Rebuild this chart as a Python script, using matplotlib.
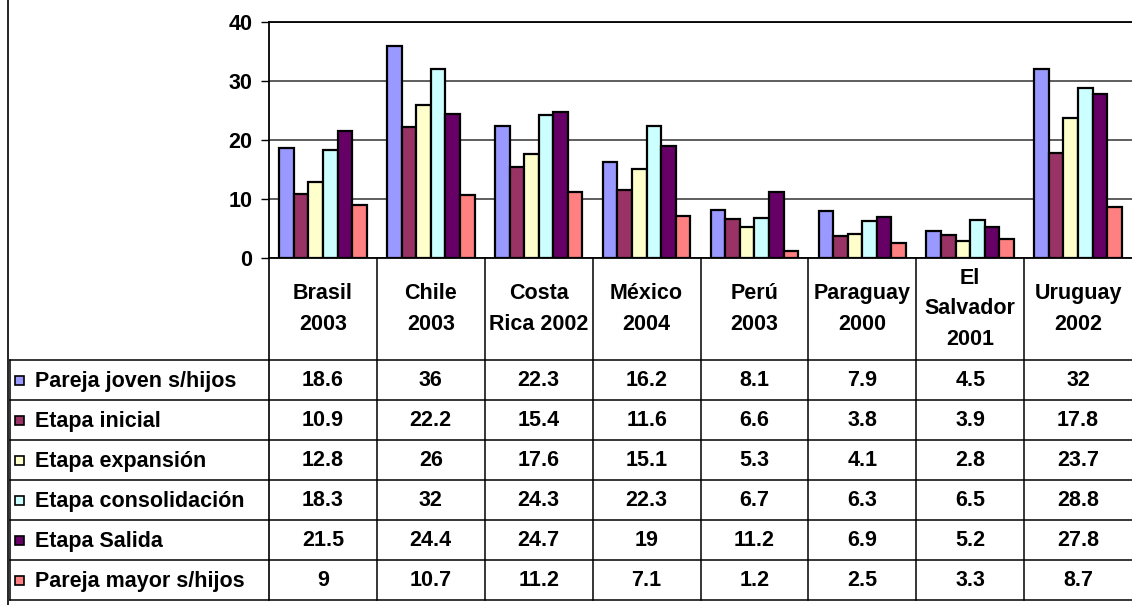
import matplotlib
matplotlib.use("Agg")
import matplotlib.pyplot as plt
from matplotlib.patches import Rectangle
import numpy as np

plt.rcParams['font.family'] = ['Liberation Sans', 'DejaVu Sans']

categories = ["Brasil\n2003", "Chile\n2003", "Costa\nRica 2002", "México\n2004",
              "Perú\n2003", "Paraguay\n2000", "El\nSalvador\n2001", "Uruguay\n2002"]
series_names = ["Pareja joven s/hijos", "Etapa inicial", "Etapa expansión",
                "Etapa consolidación", "Etapa Salida", "Pareja mayor s/hijos"]
pareja_joven = [18.6, 36, 22.3, 16.2, 8.1, 7.9, 4.5, 32]
etapa_inicial = [10.9, 22.2, 15.4, 11.6, 6.6, 3.8, 3.9, 17.8]
etapa_expansion = [12.8, 26, 17.6, 15.1, 5.3, 4.1, 2.8, 23.7]
etapa_consolidacion = [18.3, 32, 24.3, 22.3, 6.7, 6.3, 6.5, 28.8]
etapa_salida = [21.5, 24.4, 24.7, 19, 11.2, 6.9, 5.2, 27.8]
pareja_mayor = [9, 10.7, 11.2, 7.1, 1.2, 2.5, 3.3, 8.7]
series = [pareja_joven, etapa_inicial, etapa_expansion, etapa_consolidacion,
          etapa_salida, pareja_mayor]
colors = ["#9999FF", "#993366", "#FFFFCC", "#CCFFFF", "#660066", "#FF8080"]
yticks = [0, 10, 20, 30, 40]

FS = 15.5
W, H = 1132, 605
fig = plt.figure(figsize=(W / 100, H / 100), dpi=100)

# plot area in pixels
px_left, px_right, px_top, px_bottom = 269, 1132, 22, 258
ax = fig.add_axes([px_left / W, 1 - px_bottom / H,
                   (px_right - px_left) / W, (px_bottom - px_top) / H])

n = len(categories)
bw = 0.135
start = 0.095
x = np.arange(n)
for k, (vals, c) in enumerate(zip(series, colors)):
    ax.bar(x + start + k * bw, vals, width=bw, align='edge', color=c,
           edgecolor='black', linewidth=1.6, zorder=3)

ax.set_xlim(0, n)
ax.set_ylim(0, 40)
ax.set_yticks(yticks)
ax.set_yticklabels([str(t) for t in yticks], fontsize=FS, fontweight='bold')
ax.tick_params(axis='y', length=6, width=1, pad=6, direction='out')
ax.set_xticks([])
ax.grid(axis='y', color='#333333', linewidth=1.1, zorder=0)
for s in ['left', 'top', 'bottom']:
    ax.spines[s].set_linewidth(1.3)
ax.spines['right'].set_visible(False)

# overlay for table in pixel coordinates
ov = fig.add_axes([0, 0, 1, 1], zorder=5)
ov.set_xlim(0, W)
ov.set_ylim(H, 0)
ov.axis('off')
ov.patch.set_alpha(0)

col_w = (px_right - px_left) / n
cols = [px_left + i * col_w for i in range(n + 1)]
header_top, header_bot = 258, 360
row_h = 40
rows = [header_bot + i * row_h for i in range(len(series) + 1)]
tbl_left = 10

lc = 'black'
lw = 1.1
# figure frame left line
ov.plot([7.5, 7.5], [0, H], color=lc, lw=1.2)
# vertical lines
for cx in cols[1:-1]:
    ov.plot([cx, cx], [header_top, rows[-1]], color=lc, lw=lw)
ov.plot([px_left, px_left], [header_top, rows[-1]], color=lc, lw=1.2)
ov.plot([tbl_left, tbl_left], [header_bot, rows[-1]], color=lc, lw=lw)
# horizontal lines
for ry in rows:
    ov.plot([tbl_left, W], [ry, ry], color=lc, lw=lw)

# header labels
for i, cat in enumerate(categories):
    cx = (cols[i] + cols[i + 1]) / 2
    ov.text(cx, (header_top + header_bot) / 2, cat, ha='center', va='center',
            fontsize=FS, fontweight='bold', linespacing=1.6)

# rows
for r, (name, vals, c) in enumerate(zip(series_names, series, colors)):
    cy = (rows[r] + rows[r + 1]) / 2
    ov.add_patch(Rectangle((15, cy - 4.5), 9, 9, facecolor=c, edgecolor='black', lw=1.2))
    ov.text(35, cy + 1, name, ha='left', va='center', fontsize=FS, fontweight='bold')
    for i, v in enumerate(vals):
        cx = (cols[i] + cols[i + 1]) / 2
        ov.text(cx, cy + 1, f"{v:g}", ha='center', va='center',
                fontsize=FS, fontweight='bold')

fig.savefig("out.png", dpi=100)
